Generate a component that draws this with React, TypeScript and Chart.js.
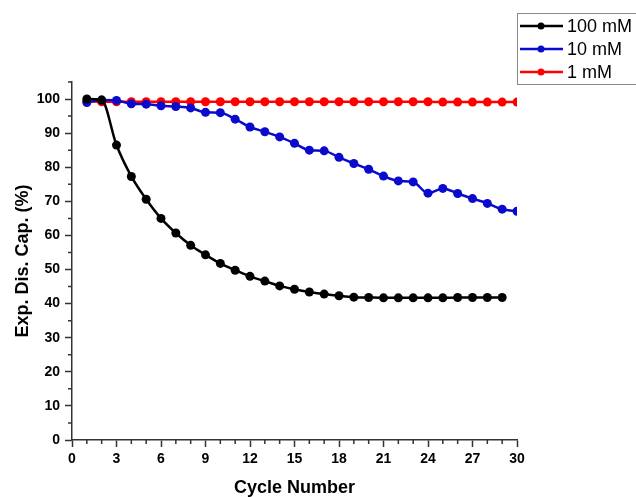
import React, { useEffect, useRef } from "react";
import { Chart, registerables } from "chart.js";

Chart.register(...registerables);

const cycles = [1, 2, 3, 4, 5, 6, 7, 8, 9, 10, 11, 12, 13, 14, 15, 16, 17, 18, 19, 20, 21, 22, 23, 24, 25, 26, 27, 28, 29, 30];
const series100mM = [100, 99.7, 86.5, 77.3, 70.6, 65.0, 60.7, 57.1, 54.3, 51.8, 49.8, 48.0, 46.6, 45.2, 44.2, 43.4, 42.8, 42.3, 41.9, 41.8, 41.7, 41.7, 41.7, 41.7, 41.7, 41.8, 41.8, 41.8, 41.8];
const series10mM = [99.0, 99.7, 99.6, 98.6, 98.5, 98.0, 97.8, 97.4, 96.1, 96.0, 94.1, 91.8, 90.4, 88.9, 87.0, 85.0, 84.8, 82.9, 81.1, 79.4, 77.4, 76.0, 75.7, 72.4, 73.8, 72.3, 70.8, 69.4, 67.7, 67.1];
const series1mM = [99.3, 99.2, 99.2, 99.2, 99.2, 99.2, 99.2, 99.2, 99.2, 99.2, 99.2, 99.2, 99.2, 99.2, 99.2, 99.2, 99.2, 99.2, 99.2, 99.2, 99.2, 99.2, 99.2, 99.2, 99.1, 99.1, 99.1, 99.1, 99.1, 99.1];
const seriesLabels = ["100 mM", "10 mM", "1 mM"];
const seriesColors = ["#000000", "#0A0ACC", "#FF0000"];
const xMinorTicks = [1, 2, 4, 5, 7, 8, 10, 11, 13, 14, 16, 17, 19, 20, 22, 23, 25, 26, 28, 29];
const yMinorTicks = [5, 15, 25, 35, 45, 55, 65, 75, 85, 95, 105];

const FONT = "'Liberation Sans', Arial, sans-serif";

const toPoints = (vals: number[]) => vals.map((v, i) => ({ x: cycles[i], y: v }));

const minorTickPlugin = {
  id: "minorTicks",
  afterDraw(chart: any) {
    const { ctx, scales } = chart;
    const xs = scales.x;
    const ys = scales.y;
    ctx.save();
    ctx.strokeStyle = "#333";
    ctx.lineWidth = 1.5;
    ctx.beginPath();
    xMinorTicks.forEach((v) => {
      const px = xs.getPixelForValue(v);
      ctx.moveTo(px, xs.top);
      ctx.lineTo(px, xs.top + 4);
    });
    yMinorTicks.forEach((v) => {
      const py = ys.getPixelForValue(v);
      ctx.moveTo(ys.right, py);
      ctx.lineTo(ys.right - 4, py);
    });
    ctx.stroke();
    ctx.restore();
  },
};

const legendPlugin = {
  id: "customLegend",
  afterDraw(chart: any) {
    const { ctx } = chart;
    ctx.save();
    ctx.strokeStyle = "#8a8a8a";
    ctx.lineWidth = 1;
    ctx.strokeRect(517.5, 13.5, 130, 71);
    const rows = [26, 49, 72];
    seriesLabels.forEach((label, i) => {
      const y = rows[i];
      ctx.strokeStyle = seriesColors[i];
      ctx.lineWidth = 2.5;
      ctx.beginPath();
      ctx.moveTo(520, y);
      ctx.lineTo(563, y);
      ctx.stroke();
      ctx.fillStyle = seriesColors[i];
      ctx.beginPath();
      ctx.arc(541, y, 3.5, 0, Math.PI * 2);
      ctx.fill();
      ctx.fillStyle = "#000";
      ctx.font = `18px ${FONT}`;
      ctx.textBaseline = "middle";
      ctx.textAlign = "left";
      ctx.fillText(label, 567, y + 1);
    });
    ctx.restore();
  },
};

export default function App() {
  const ref = useRef<HTMLCanvasElement>(null);

  useEffect(() => {
    if (!ref.current) return;
    const mk = (data: number[], i: number) => ({
      label: seriesLabels[i],
      data: toPoints(data),
      borderColor: seriesColors[i],
      backgroundColor: seriesColors[i],
      borderWidth: 2.5,
      pointRadius: 4.5,
      pointBorderWidth: 0,
      pointBackgroundColor: seriesColors[i],
      cubicInterpolationMode: "monotone",
    });
    const chart = new Chart(ref.current, {
      type: "line",
      data: {
        datasets: [mk(series100mM, 0), mk(series10mM, 1), mk(series1mM, 2)],
      },
      options: {
        animation: false,
        responsive: false,
        layout: { padding: { top: 82, right: 119, left: 0, bottom: 0 } },
        plugins: { legend: { display: false }, tooltip: { enabled: false } },
        scales: {
          x: {
            type: "linear",
            min: 0,
            max: 30,
            afterFit: (s: any) => {
              s.height = 57;
            },
            ticks: {
              stepSize: 3,
              padding: 4,
              color: "#000",
              font: { family: FONT, size: 14, weight: "bold" },
            },
            grid: { drawOnChartArea: false, tickLength: 7, tickWidth: 1.5, tickColor: "#333" },
            border: { color: "#333", width: 1.5 },
            title: {
              display: true,
              text: "Cycle Number",
              color: "#000",
              font: { family: FONT, size: 18, weight: "bold", lineHeight: 1 },
              padding: { top: 0, bottom: 0 },
            },
          },
          y: {
            type: "linear",
            min: 0,
            max: 105,
            afterFit: (s: any) => {
              s.width = 72;
            },
            afterBuildTicks: (s: any) => {
              s.ticks = s.ticks.filter((t: any) => t.value % 10 === 0);
            },
            ticks: {
              stepSize: 10,
              padding: 5,
              color: "#000",
              font: { family: FONT, size: 14, weight: "bold" },
            },
            grid: { drawOnChartArea: false, tickLength: 7, tickWidth: 1.5, tickColor: "#333" },
            border: { color: "#333", width: 1.5 },
            title: {
              display: true,
              text: "Exp. Dis. Cap. (%)",
              color: "#000",
              font: { family: FONT, size: 18, weight: "bold", lineHeight: 1 },
              padding: { top: 14, bottom: 0 },
            },
          },
        },
      },
      plugins: [minorTickPlugin, legendPlugin],
    } as any);
    return () => chart.destroy();
  }, []);

  return (
    <div style={{ position: "absolute", left: 0, top: 0, width: 636, height: 497, background: "#fff" }}>
      <canvas ref={ref} width={636} height={497} style={{ display: "block" }} />
    </div>
  );
}
